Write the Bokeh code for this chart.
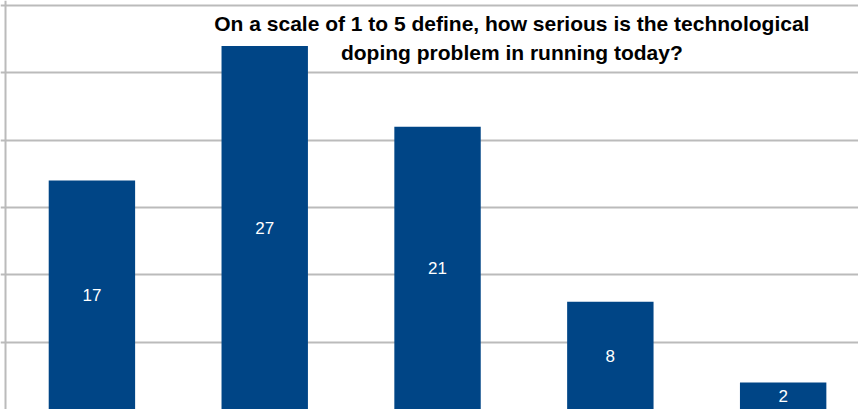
from bokeh.plotting import figure
from bokeh.models import Range1d, Span, Label, ColumnDataSource, FixedTicker
from bokeh.core.properties import value
from bokeh.embed import file_html
from bokeh.resources import INLINE

# Survey answers: seriousness rating (1-5) and number of respondents
ratings = ["1", "2", "3", "4", "5"]
counts = [17, 27, 21, 8, 2]
title_lines = [
    "On a scale of 1 to 5 define, how serious is the technological",
    "doping problem in running today?",
]

BAR_COLOR = "#004586"
GRID_COLOR = "#BBBBBB"
FONT = "Liberation Sans"

xs = [i + 0.5 for i in range(len(ratings))]
src = ColumnDataSource(dict(
    x=xs,
    top=counts,
    mid=[c / 2 for c in counts],
    label=[str(c) for c in counts],
))

p = figure(
    width=858, height=409,
    x_range=Range1d(-0.029, 4.936),
    y_range=Range1d(0, 30.37),
    output_backend="svg", toolbar_location=None,
    min_border_left=0, min_border_right=0,
    min_border_top=0, min_border_bottom=0,
)
p.xaxis.visible = False
p.yaxis.visible = False
p.outline_line_color = None
p.xgrid.visible = False
p.ygrid.ticker = FixedTicker(ticks=[5, 10, 15, 20, 25, 30])
p.ygrid.grid_line_color = GRID_COLOR
p.ygrid.grid_line_width = 2

# left edge line of the value axis
p.add_layout(Span(location=0, dimension="height", line_color=GRID_COLOR, line_width=2))

p.vbar(x="x", top="top", bottom=0, width=0.5, source=src,
       fill_color=BAR_COLOR, line_color=None)

p.text(x="x", y="mid", text="label", source=src,
       text_color="white", text_font=value(FONT), text_font_size="17px",
       text_align="center", text_baseline="middle")

for line, y in zip(title_lines, [28.66, 26.5]):
    p.add_layout(Label(x=2.93, y=y, text=line, text_align="center",
                       text_baseline="alphabetic", text_font=FONT,
                       text_font_size="21px", text_font_style="bold",
                       text_color="black"))

open("out.html", "w").write(file_html(p, INLINE))
